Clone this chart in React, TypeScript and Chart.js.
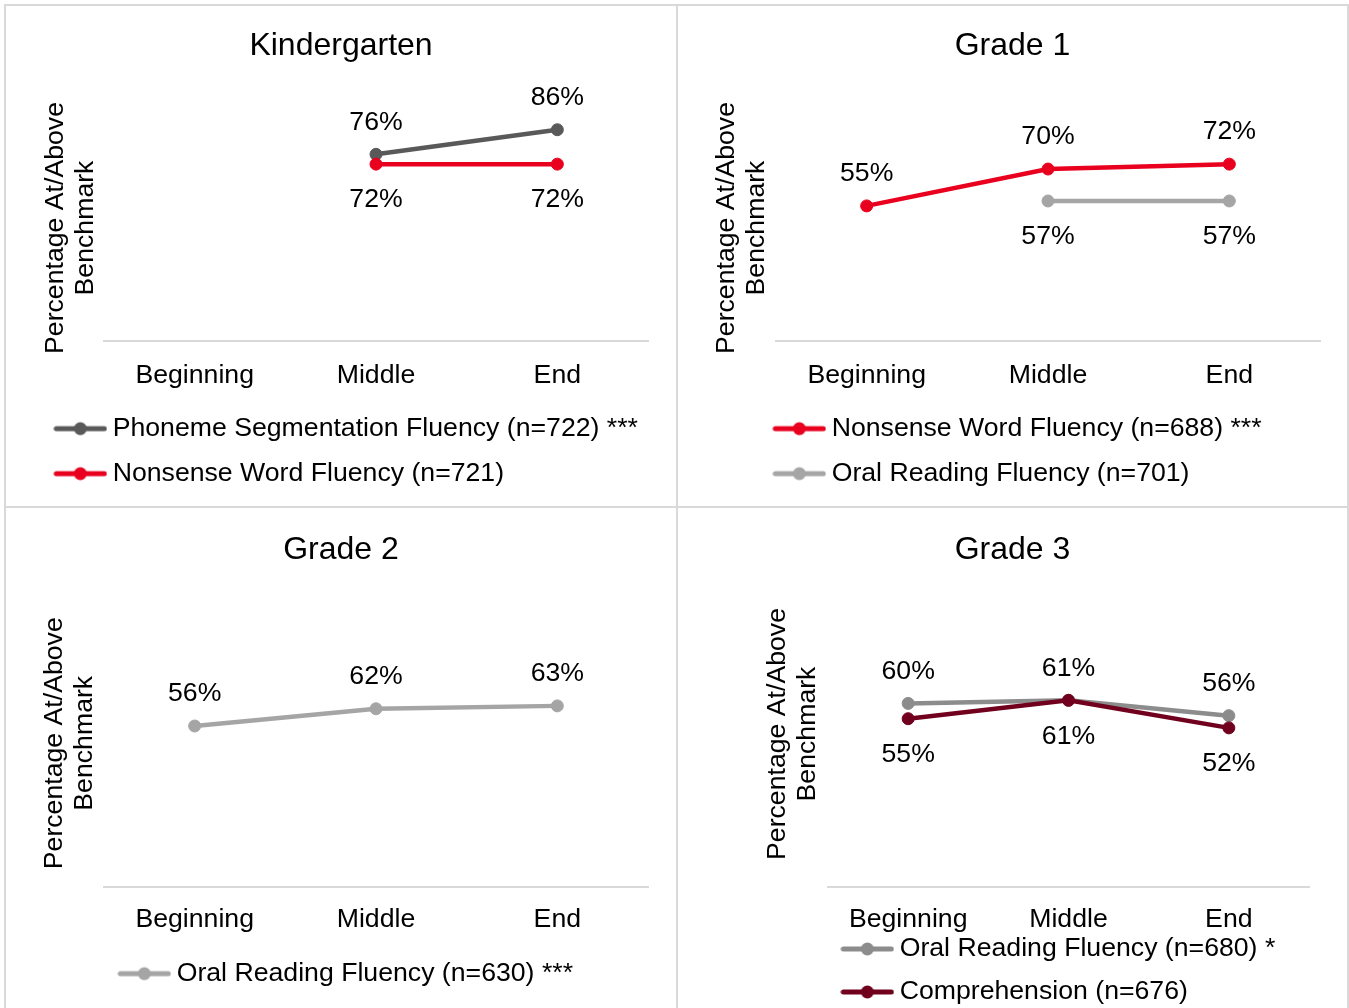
import React, { useEffect, useRef } from 'react';
import { Chart, registerables } from 'chart.js';

Chart.register(...registerables);

const FONT = "'Liberation Sans', Arial, Helvetica, sans-serif";
const FS = 26.67;

// ---- data ----
const stages = ['Beginning', 'Middle', 'End'];
const panelTitles = ['Kindergarten', 'Grade 1', 'Grade 2', 'Grade 3'];
const yTitle = ['Percentage At/Above', 'Benchmark'];

const kPSF = [null, 76, 86];
const kNWF = [null, 72, 72];
const g1NWF = [55, 70, 72];
const g1ORF = [null, 57, 57];
const g2ORF = [56, 62, 63];
const g3ORF = [60, 61, 56];
const g3COMP = [55, 61, 52];

const kNames = ['Phoneme Segmentation Fluency (n=722) ***', 'Nonsense Word Fluency (n=721)'];
const g1Names = ['Nonsense Word Fluency (n=688) ***', 'Oral Reading Fluency (n=701)'];
const g2Names = ['Oral Reading Fluency (n=630) ***'];
const g3Names = ['Oral Reading Fluency (n=680) *', 'Comprehension (n=676)'];

// ---- styles ----
const C_PSF = '#595959';
const C_NWF = '#E8001E';
const C_ORF = '#A5A5A5';
const C_ORF3 = '#8C8C8C';
const C_COMP = '#70001E';

type Series = { name: string; values: (number | null)[]; color: string; pos: 'above' | 'below' };
type PanelCfg = {
  title: string;
  series: Series[];
  left: number; top: number; w: number; h: number; canvasH: number;
  yMax: number;
  yAxisW: number; yTitlePad: number; rightW: number;
  titlePadTop: number; titlePadBottom: number;
  xAxisH: number; tickPad: number;
  legendPad: number; legendShift: number; legendShiftY: number; padBottom: number;
};

const panels: PanelCfg[] = [
  {
    title: panelTitles[0],
    series: [
      { name: kNames[0], values: kPSF, color: C_PSF, pos: 'above' },
      { name: kNames[1], values: kNWF, color: C_NWF, pos: 'below' },
    ],
    left: 4, top: 4, w: 674, h: 504, canvasH: 500, yMax: 92,
    yAxisW: 98, yTitlePad: 35, rightW: 28,
    titlePadTop: 20.8, titlePadBottom: 49.8,
    xAxisH: 54, tickPad: 18.4,
    legendPad: 18.33, legendShift: 37, legendShiftY: 2, padBottom: 11,
  },
  {
    title: panelTitles[1],
    series: [
      { name: g1Names[0], values: g1NWF, color: C_NWF, pos: 'above' },
      { name: g1Names[1], values: g1ORF, color: C_ORF, pos: 'below' },
    ],
    left: 676, top: 4, w: 673, h: 504, canvasH: 500, yMax: 92,
    yAxisW: 98, yTitlePad: 34, rightW: 27,
    titlePadTop: 20.8, titlePadBottom: 49.8,
    xAxisH: 54, tickPad: 18.4,
    legendPad: 18.33, legendShift: 84, legendShiftY: 2, padBottom: 11,
  },
  {
    title: panelTitles[2],
    series: [
      { name: g2Names[0], values: g2ORF, color: C_ORF, pos: 'above' },
    ],
    left: 4, top: 506, w: 674, h: 504, canvasH: 520, yMax: 100,
    yAxisW: 98, yTitlePad: 34, rightW: 28,
    titlePadTop: 22.8, titlePadBottom: 30.3,
    xAxisH: 53, tickPad: 17,
    legendPad: 18.33, legendShift: 101, legendShiftY: 2, padBottom: 33,
  },
  {
    title: panelTitles[3],
    series: [
      { name: g3Names[0], values: g3ORF, color: C_ORF3, pos: 'above' },
      { name: g3Names[1], values: g3COMP, color: C_COMP, pos: 'below' },
    ],
    left: 676, top: 506, w: 673, h: 504, canvasH: 540, yMax: 100,
    yAxisW: 150, yTitlePad: 85, rightW: 38,
    titlePadTop: 22.8, titlePadBottom: 11.8,
    xAxisH: 46, tickPad: 16.4,
    legendPad: 16.33, legendShift: 154, legendShiftY: -13.7, padBottom: 19,
  },
];

function markerImage(color: string) {
  const c = document.createElement('canvas');
  c.width = 54;
  c.height = 16;
  const x = c.getContext('2d')!;
  x.strokeStyle = color;
  x.lineWidth = 5;
  x.lineCap = 'round';
  x.beginPath();
  x.moveTo(3, 8);
  x.lineTo(51, 8);
  x.stroke();
  x.fillStyle = color;
  x.beginPath();
  x.arc(27, 8, 6.5, 0, Math.PI * 2);
  x.fill();
  return c;
}

const legendShiftPlugin = {
  id: 'legendShift',
  afterLayout(chart: any, _args: any, opts: any) {
    if (chart.legend && opts) {
      chart.legend.left += opts.x || 0;
      chart.legend.top += opts.y || 0;
    }
  },
};

const valueLabels = {
  id: 'valueLabels',
  afterDatasetsDraw(chart: any) {
    const ctx = chart.ctx;
    ctx.save();
    ctx.font = `${FS}px ${FONT}`;
    ctx.fillStyle = '#000';
    ctx.textAlign = 'center';
    ctx.textBaseline = 'middle';
    chart.data.datasets.forEach((ds: any, i: number) => {
      const meta = chart.getDatasetMeta(i);
      meta.data.forEach((pt: any, j: number) => {
        const v = ds.data[j];
        if (v == null) return;
        const dy = ds.labelPos === 'below' ? 36 : -32;
        ctx.fillText(`${v}%`, pt.x, pt.y + dy);
      });
    });
    ctx.restore();
  },
};

function Panel({ cfg }: { cfg: PanelCfg }) {
  const ref = useRef<HTMLCanvasElement>(null);
  useEffect(() => {
    const n = cfg.series.length;
    const chart = new Chart(ref.current!, {
      type: 'line',
      data: {
        labels: stages,
        datasets: cfg.series.map((s, i) => ({
          label: s.name,
          data: s.values,
          borderColor: s.color,
          backgroundColor: s.color,
          borderWidth: 4.5,
          pointRadius: 6,
          pointBorderWidth: 1,
          pointBackgroundColor: s.color,
          pointBorderColor: s.color,
          tension: 0,
          order: n - i,
          labelPos: s.pos,
        })) as any,
      },
      options: {
        responsive: false,
        animation: false,
        devicePixelRatio: 1,
        events: [],
        layout: { padding: { left: 0, right: 0, top: 0, bottom: cfg.padBottom } },
        scales: {
          x: {
            type: 'category',
            offset: true,
            grid: { display: false, drawTicks: false },
            border: { display: true, color: '#D9D9D9', width: 2 },
            ticks: { color: '#000', font: { size: FS, family: FONT }, padding: cfg.tickPad, maxRotation: 0, autoSkip: false },
            afterFit: (s: any) => { s.height = cfg.xAxisH; },
          },
          y: {
            type: 'linear',
            min: 0,
            max: cfg.yMax,
            position: 'left',
            grid: { display: false, drawTicks: false },
            border: { display: false },
            ticks: { display: false },
            title: {
              display: true,
              text: yTitle,
              color: '#000',
              font: { size: FS, family: FONT, lineHeight: 30 / FS },
              padding: { top: cfg.yTitlePad, bottom: 0 },
            },
            afterFit: (s: any) => { s.width = cfg.yAxisW; },
          },
          yR: {
            type: 'linear',
            position: 'right',
            display: true,
            grid: { display: false, drawTicks: false },
            border: { display: false },
            ticks: { display: false },
            afterFit: (s: any) => { s.width = cfg.rightW; },
          },
        } as any,
        plugins: {
          title: {
            display: true,
            text: cfg.title,
            color: '#000',
            font: { size: 32, family: FONT, weight: 'normal' },
            padding: { top: cfg.titlePadTop, bottom: cfg.titlePadBottom },
          },
          legend: {
            display: true,
            position: 'bottom',
            align: 'start',
            labels: {
              usePointStyle: true,
              pointStyleWidth: 38,
              padding: cfg.legendPad,
              color: '#000',
              font: { size: FS, family: FONT },
              generateLabels: (ch: any) =>
                ch.data.datasets.map((ds: any, i: number) => ({
                  text: ds.label,
                  fillStyle: ds.borderColor,
                  strokeStyle: ds.borderColor,
                  lineWidth: 0,
                  pointStyle: markerImage(ds.borderColor),
                  hidden: false,
                  datasetIndex: i,
                  fontColor: '#000',
                })),
            },
          },
          tooltip: { enabled: false },
          legendShift: { x: cfg.legendShift, y: cfg.legendShiftY },
        } as any,
      },
      plugins: [legendShiftPlugin, valueLabels],
    });
    return () => chart.destroy();
  }, []);
  return (
    <div
      style={{
        position: 'absolute',
        left: cfg.left,
        top: cfg.top,
        width: cfg.w,
        height: cfg.h,
        border: '2px solid #D9D9D9',
        boxSizing: 'border-box',
        overflow: 'hidden',
        background: '#fff',
      }}
    >
      <canvas ref={ref} width={cfg.w - 4} height={cfg.canvasH} style={{ display: 'block' }} />
    </div>
  );
}

export default function App() {
  return (
    <div
      style={{
        position: 'absolute',
        left: 0,
        top: 0,
        width: 1349,
        height: 1008,
        overflow: 'hidden',
        background: '#fff',
        fontFamily: FONT,
      }}
    >
      {panels.map((p, i) => (
        <Panel key={i} cfg={p} />
      ))}
    </div>
  );
}
